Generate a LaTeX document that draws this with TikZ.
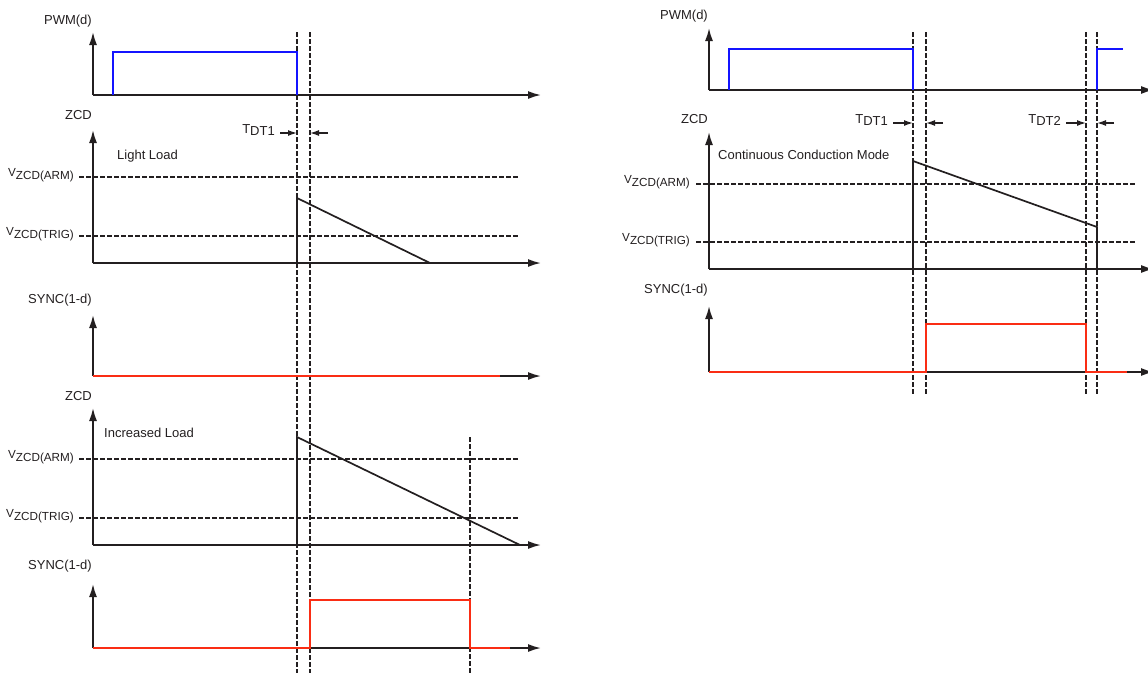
\documentclass[tikz,border=0pt]{standalone}
\usepackage{fontspec}
\setmainfont{Liberation Sans}
\usetikzlibrary{arrows.meta}
\definecolor{axisgray}{RGB}{35,31,32}
\definecolor{pwmblue}{RGB}{20,20,255}
\definecolor{syncred}{RGB}{250,45,20}
\newcommand{\Vlbl}[1]{V\raisebox{-0.4ex}{#1}}
\newcommand{\Tlbl}[1]{T\raisebox{-0.4ex}{#1}}
\tikzset{
  axis/.style={line width=1.7pt, draw=axisgray, -{Latex[length=13pt,width=8pt]}},
  vdash/.style={line width=1.3pt, draw=axisgray, dash pattern=on 4.5pt off 2.5pt},
  hdash/.style={line width=1.3pt, draw=axisgray, dash pattern=on 4.5pt off 2.5pt},
  pwm/.style={line width=2.2pt, draw=pwmblue},
  sync/.style={line width=2.2pt, draw=syncred},
  ramp/.style={line width=1.7pt, draw=axisgray},
  lbl/.style={font=\fontsize{13}{15}\selectfont, inner sep=0pt, text=axisgray},
  vlbl/.style={font=\fontsize{11.7}{14}\selectfont, inner sep=0pt, text=axisgray},
  dtarrow/.style={line width=1.3pt, draw=axisgray, -{Latex[length=9pt,width=6pt]}}
}
\begin{document}
\begin{tikzpicture}[x=1pt,y=-1pt]
\useasboundingbox (0,0) rectangle (1148,673);

% ================= dashed verticals (drawn first, under the waveforms)
\draw[vdash] (297,32) -- (297,673);
\draw[vdash] (310,32) -- (310,673);
\draw[vdash] (470,437) -- (470,673);
\draw[vdash] (913,32) -- (913,396);
\draw[vdash] (926,32) -- (926,396);
\draw[vdash] (1086,32) -- (1086,396);
\draw[vdash] (1097,32) -- (1097,396);

% ================= LEFT PANEL =================
% PWM
\coordinate (LPo) at (93,95);
\coordinate (LPx) at (541,95);
\coordinate (LPy) at (93,32);
\node[lbl, anchor=east] (lpwm) at (92,21) {PWM(d)};
\draw[axis] (LPo) -- (LPx);
\draw[axis] (LPo) -- (LPy);
\draw[pwm] (113,95) -- (113,52) -- (297,52) -- (297,95);

% ZCD light load
\coordinate (LZo) at (93,263);
\coordinate (LZx) at (541,263);
\coordinate (LZy) at (93,130);
\node[lbl, anchor=east] (lzcd) at (92,115) {ZCD};
\draw[axis] (LZo) -- (LZx);
\draw[axis] (LZo) -- (LZy);
\node[lbl, anchor=west] (light) at (117,156) {Light Load};
\node[vlbl, anchor=east] (larm1) at (74,175) {\Vlbl{ZCD(ARM)}};
\node[vlbl, anchor=east] (ltrig1) at (74,234) {\Vlbl{ZCD(TRIG)}};
\draw[hdash] (79,177) -- (519,177);
\draw[hdash] (79,236) -- (519,236);
\draw[ramp] (297,263) -- (297,198) -- (430,263);

% T_DT1 left
\node[lbl, anchor=east] (ltdt) at (275,130) {\Tlbl{DT1}};
\coordinate (ldtA) at (280,133);
\coordinate (ldtB) at (297,133);
\coordinate (ldtC) at (328,133);
\coordinate (ldtD) at (310,133);
\draw[dtarrow] (ldtA) -- (ldtB);
\draw[dtarrow] (ldtC) -- (ldtD);

% SYNC light load
\coordinate (LSo) at (93,376);
\coordinate (LSx) at (541,376);
\coordinate (LSy) at (93,315);
\node[lbl, anchor=east] (lsync1) at (92,300) {SYNC(1-d)};
\draw[axis] (LSo) -- (LSx);
\draw[axis] (LSo) -- (LSy);
\draw[sync] (93,376) -- (500,376);

% ZCD increased load
\coordinate (LZ2o) at (93,545);
\coordinate (LZ2x) at (541,545);
\coordinate (LZ2y) at (93,408);
\node[lbl, anchor=east] (lzcd2) at (92,396) {ZCD};
\draw[axis] (LZ2o) -- (LZ2x);
\draw[axis] (LZ2o) -- (LZ2y);
\node[lbl, anchor=west] (incr) at (104,433) {Increased Load};
\node[vlbl, anchor=east] (larm2) at (74,457) {\Vlbl{ZCD(ARM)}};
\node[vlbl, anchor=east] (ltrig2) at (74,516) {\Vlbl{ZCD(TRIG)}};
\draw[hdash] (79,459) -- (519,459);
\draw[hdash] (79,518) -- (519,518);
\draw[ramp] (297,545) -- (297,437) -- (520,545);

% SYNC increased load
\coordinate (LS2o) at (93,648);
\coordinate (LS2x) at (541,648);
\coordinate (LS2y) at (93,584);
\node[lbl, anchor=east] (lsync2) at (92,566) {SYNC(1-d)};
\draw[axis] (LS2o) -- (LS2x);
\draw[axis] (LS2o) -- (LS2y);
\draw[sync] (93,648) -- (310,648) -- (310,600) -- (470,600) -- (470,648) -- (510,648);

% ================= RIGHT PANEL =================
% PWM
\coordinate (RPo) at (709,90);
\coordinate (RPx) at (1154,90);
\coordinate (RPy) at (709,28);
\node[lbl, anchor=east] (rpwm) at (708,16) {PWM(d)};
\draw[axis] (RPo) -- (RPx);
\draw[axis] (RPo) -- (RPy);
\draw[pwm] (729,90) -- (729,49) -- (913,49) -- (913,90);
\draw[pwm] (1097,90) -- (1097,49) -- (1123,49);

% ZCD CCM
\coordinate (RZo) at (709,269);
\coordinate (RZx) at (1154,269);
\coordinate (RZy) at (709,132);
\node[lbl, anchor=east] (rzcd) at (708,119) {ZCD};
\draw[axis] (RZo) -- (RZx);
\draw[axis] (RZo) -- (RZy);
\node[lbl, anchor=west] (ccm) at (718,155) {Continuous Conduction Mode};
\node[vlbl, anchor=east] (rarm) at (690,182) {\Vlbl{ZCD(ARM)}};
\node[vlbl, anchor=east] (rtrig) at (690,240) {\Vlbl{ZCD(TRIG)}};
\draw[hdash] (696,184) -- (1135,184);
\draw[hdash] (696,242) -- (1135,242);
\draw[ramp] (913,269) -- (913,161) -- (1097,227) -- (1097,269);

% T_DT labels right
\node[lbl, anchor=east] (rtdt1) at (888,120) {\Tlbl{DT1}};
\coordinate (rdtA) at (893,123);
\coordinate (rdtB) at (913,123);
\coordinate (rdtC) at (943,123);
\coordinate (rdtD) at (926,123);
\draw[dtarrow] (rdtA) -- (rdtB);
\draw[dtarrow] (rdtC) -- (rdtD);
\node[lbl, anchor=east] (rtdt2) at (1061,120) {\Tlbl{DT2}};
\coordinate (rdtE) at (1066,123);
\coordinate (rdtF) at (1086,123);
\coordinate (rdtG) at (1114,123);
\coordinate (rdtH) at (1097,123);
\draw[dtarrow] (rdtE) -- (rdtF);
\draw[dtarrow] (rdtG) -- (rdtH);

% SYNC CCM
\coordinate (RSo) at (709,372);
\coordinate (RSx) at (1154,372);
\coordinate (RSy) at (709,306);
\node[lbl, anchor=east] (rsync) at (708,290) {SYNC(1-d)};
\draw[axis] (RSo) -- (RSx);
\draw[axis] (RSo) -- (RSy);
\draw[sync] (709,372) -- (926,372) -- (926,324) -- (1086,324) -- (1086,372) -- (1127,372);
\end{tikzpicture}
\end{document}
